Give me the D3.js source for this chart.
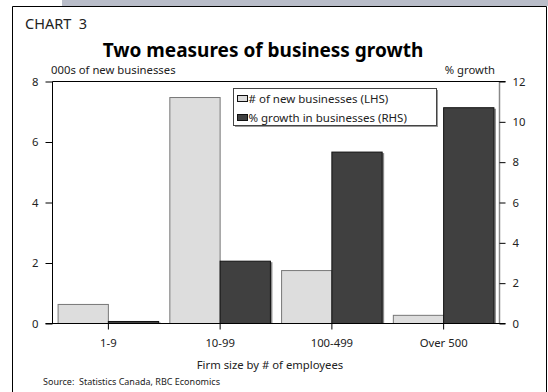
<!DOCTYPE html>
<html>
<head>
<meta charset="utf-8">
<script src="https://cdn.jsdelivr.net/npm/d3@7"></script>
<style>
  html, body { margin: 0; padding: 0; background: #fff; }
  svg { display: block; font-family: "Noto Sans", "DejaVu Sans", sans-serif; }
  svg text { white-space: pre; }
</style>
</head>
<body>
<svg id="chart" width="548" height="392"></svg>
<script>
// Firm-size categories and the two measured series
const categories = ["1-9", "10-99", "100-499", "Over 500"];
const newBusinesses = [0.63, 7.47, 1.75, 0.27];   // thousands (left axis)
const growthPct = [0.1, 3.09, 8.5, 10.7];          // % growth (right axis)
const leftTicks = [0, 2, 4, 6, 8];
const rightTicks = [0, 2, 4, 6, 8, 10, 12];
const seriesNames = ["# of new businesses (LHS)", "% growth in businesses (RHS)"];

const svg = d3.select("#chart");
const W = 548, H = 392;

// Panel frame with the tinted band along the top
svg.append("rect").attr("x", 62).attr("y", 0).attr("width", W - 62).attr("height", 6).attr("fill", "#b9bdc9");
svg.append("path").attr("d", `M12.5,${H} V6.5 H546.5 V${H}`).attr("fill", "none").attr("stroke", "#000").attr("stroke-width", 1);

const plot = { left: 52.5, right: 499.5, top: 81.5, bottom: 323.5 };

const x = d3.scaleBand().domain(categories).range([plot.left, plot.right]).paddingInner(0.1).paddingOuter(0.05);
const xs = d3.scaleBand().domain([0, 1]).range([0, x.bandwidth()]);
const yL = d3.scaleLinear().domain([0, 8]).range([plot.bottom, plot.top]);
const yR = d3.scaleLinear().domain([0, 12]).range([plot.bottom, plot.top]);

// Texts
svg.append("text").attr("x", 25).attr("y", 29).attr("font-size", 14.5).attr("fill", "#222").text("CHART  3");
svg.append("text").attr("x", 263).attr("y", 57).attr("text-anchor", "middle").attr("font-size", 19)
  .attr("font-weight", "bold").attr("fill", "#000").text("Two measures of business growth");
svg.append("text").attr("x", 51).attr("y", 74).attr("font-size", 11.3).attr("fill", "#222").text("000s of new businesses");
svg.append("text").attr("x", 495).attr("y", 74).attr("text-anchor", "end").attr("font-size", 11.3).attr("fill", "#222").text("% growth");
svg.append("text").attr("x", 270).attr("y", 369).attr("text-anchor", "middle").attr("font-size", 11.3).attr("fill", "#222").text("Firm size by # of employees");
svg.append("text").attr("x", 43).attr("y", 385).attr("font-size", 9).attr("fill", "#222").text("Source:  Statistics Canada, RBC Economics");

// Bars: light = new businesses (left scale), dark = growth (right scale)
const groups = svg.append("g").selectAll("g").data(categories).join("g")
  .attr("transform", d => `translate(${x(d)},0)`);

// thin grey shadow to the right of the dark bars
groups.append("rect")
  .attr("x", xs(1) + xs.bandwidth())
  .attr("y", (d, i) => yR(growthPct[i]) + 1)
  .attr("width", 2)
  .attr("height", (d, i) => plot.bottom - yR(growthPct[i]) - 1)
  .attr("fill", "#8a8a8a");

groups.append("rect")
  .attr("x", xs(0))
  .attr("y", (d, i) => yL(newBusinesses[i]))
  .attr("width", xs.bandwidth())
  .attr("height", (d, i) => plot.bottom - yL(newBusinesses[i]))
  .attr("fill", "#dddddd").attr("stroke", "#777").attr("stroke-width", 1);

groups.append("rect")
  .attr("x", xs(1))
  .attr("y", (d, i) => yR(growthPct[i]))
  .attr("width", xs.bandwidth())
  .attr("height", (d, i) => plot.bottom - yR(growthPct[i]))
  .attr("fill", "#404040").attr("stroke", "#111").attr("stroke-width", 1);

// Axes
const leftAxis = svg.append("g").attr("transform", `translate(${plot.left},0)`)
  .call(d3.axisLeft(yL).tickValues(leftTicks).tickSize(7).tickPadding(7).tickFormat(d3.format("d")));
const rightAxis = svg.append("g").attr("transform", `translate(${plot.right},0)`)
  .call(d3.axisRight(yR).tickValues(rightTicks).tickSize(6).tickPadding(7).tickFormat(d3.format("d")));
const bottomAxis = svg.append("g").attr("transform", `translate(0,${plot.bottom})`)
  .call(d3.axisBottom(x).tickSize(6).tickPadding(9).tickSizeOuter(0));

[leftAxis, rightAxis, bottomAxis].forEach(a => {
  a.selectAll("text").attr("font-size", 11.3).attr("fill", "#222").attr("font-family", "Noto Sans, DejaVu Sans, sans-serif");
  a.selectAll("line").attr("stroke", "#000");
});
leftAxis.select(".domain").attr("d", `M0,${plot.top}V${plot.bottom}`).attr("stroke", "#000");
rightAxis.select(".domain").attr("d", `M0,${plot.top}V${plot.bottom}`).attr("stroke", "#888").attr("stroke-width", 1.5);
bottomAxis.select(".domain").attr("d", `M${plot.left - 7},0H${plot.right + 6}`).attr("stroke", "#000");

// top border of the plot area
svg.append("line").attr("x1", plot.left).attr("x2", plot.right + 6)
  .attr("y1", plot.top).attr("y2", plot.top).attr("stroke", "#000");

// Legend
const legend = svg.append("g").attr("transform", "translate(233.5,88.5)");
legend.append("rect").attr("x", 1.5).attr("y", 1.5).attr("width", 203).attr("height", 37).attr("fill", "#999");
legend.append("rect").attr("width", 203).attr("height", 37).attr("fill", "#fff").attr("stroke", "#444");
const swatchFill = ["#dddddd", "#404040"];
seriesNames.forEach((name, i) => {
  const row = legend.append("g").attr("transform", `translate(4,${7 + i * 19})`);
  row.append("rect").attr("width", 10).attr("height", 6).attr("fill", swatchFill[i]).attr("stroke", "#111");
  row.append("text").attr("x", 11).attr("y", 7).attr("font-size", 11.5).attr("fill", "#222").text(name);
});
</script>
</body>
</html>
